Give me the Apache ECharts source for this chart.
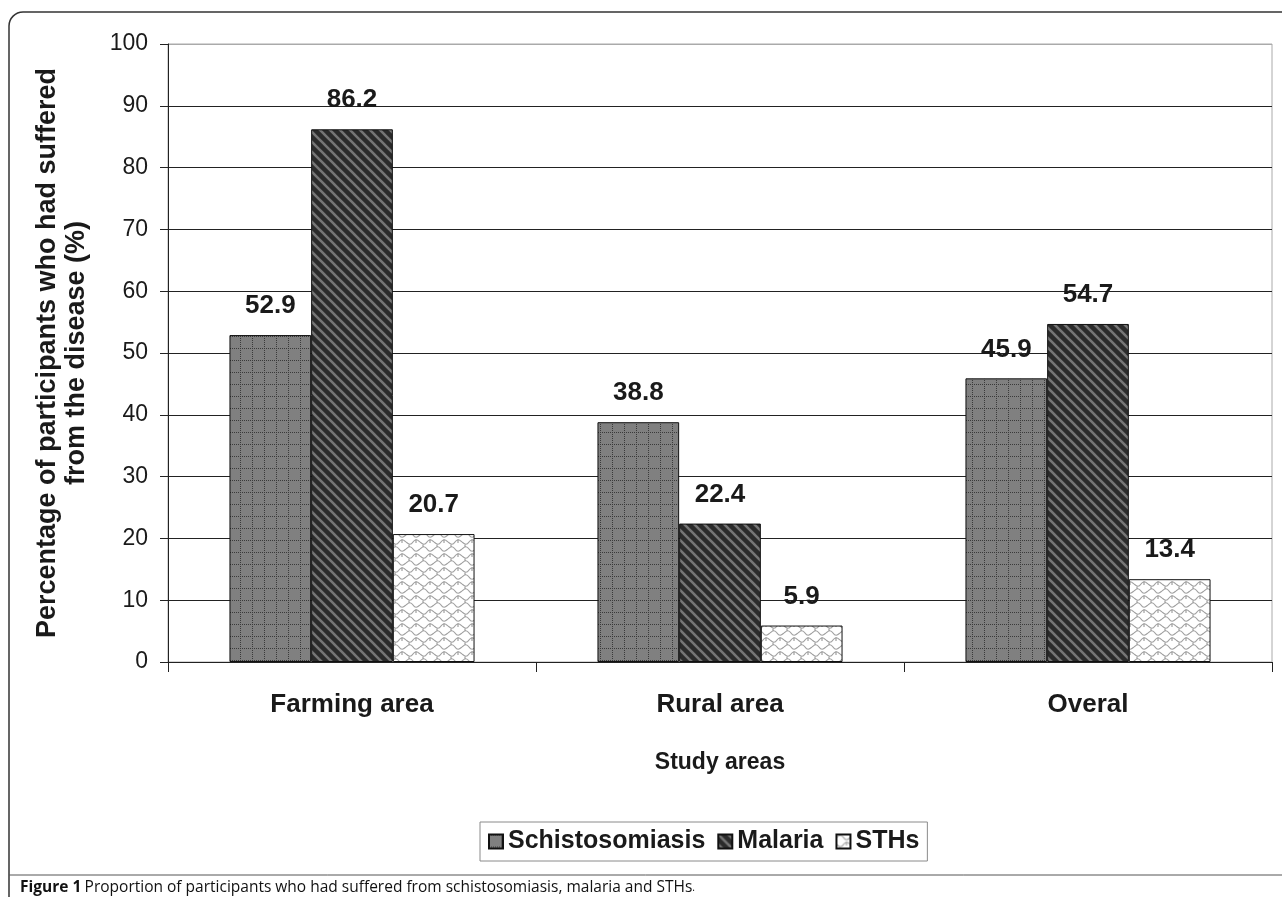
<!DOCTYPE html>
<html>
<head>
<meta charset="utf-8">
<script src="https://cdn.jsdelivr.net/npm/echarts@6/dist/echarts.min.js"></script>
<style>
  html, body { margin: 0; padding: 0; background: #fff; }
  #chart { width: 1282px; height: 897px; }
</style>
</head>
<body>
<div id="chart"></div>
<script>
// data
var categories = ['Farming area', 'Rural area', 'Overal'];
var schisto = [52.9, 38.8, 45.9];
var malaria = [86.2, 22.4, 54.7];
var sths = [20.7, 5.9, 13.4];
var yTicks = [0, 100, 10];

var FONT = '"Liberation Sans", Arial, sans-serif';

// pattern fills like the old excel hatches
function gridPattern() {
  var c = document.createElement('canvas');
  c.width = 12; c.height = 12;
  var g = c.getContext('2d');
  g.fillStyle = '#808080';
  g.fillRect(0, 0, 12, 12);
  g.fillStyle = '#3a3a3a';
  for (var i = 0; i < 12; i += 2) {
    g.fillRect(i, 0, 1, 1);
    g.fillRect(0, i, 1, 1);
  }
  return c;
}
function stripePattern() {
  var c = document.createElement('canvas');
  c.width = 10; c.height = 10;
  var g = c.getContext('2d');
  g.fillStyle = '#2b2b2b';
  g.fillRect(0, 0, 10, 10);
  g.strokeStyle = '#767676';
  g.lineWidth = 2.6;
  for (var k = -10; k <= 10; k += 10) {
    g.beginPath();
    g.moveTo(k - 2, -2);
    g.lineTo(k + 12, 12);
    g.stroke();
  }
  return c;
}
function scalePattern() {
  var c = document.createElement('canvas');
  c.width = 14; c.height = 14;
  var g = c.getContext('2d');
  g.fillStyle = '#fff';
  g.fillRect(0, 0, 14, 14);
  g.strokeStyle = '#a0a0a0';
  g.lineWidth = 1.2;
  g.beginPath();
  // wavy rows, second row shifted by half a tile
  g.moveTo(0, 3);
  g.bezierCurveTo(3, 0, 5, 0, 7, 3);
  g.bezierCurveTo(9, 6, 11, 6, 14, 3);
  g.moveTo(0, 10);
  g.bezierCurveTo(3, 13, 5, 13, 7, 10);
  g.bezierCurveTo(9, 7, 11, 7, 14, 10);
  g.moveTo(3, 1.5);
  g.lineTo(3, -1);
  g.moveTo(10, 7);
  g.lineTo(10, 11);
  g.moveTo(3, 12);
  g.lineTo(3, 15);
  g.stroke();
  return c;
}

var splitColors = [];
for (var i = 0; i < 11; i++) splitColors.push(i === 10 ? '#aaaaaa' : '#222222');

var chart = echarts.init(document.getElementById('chart'), null, { renderer: 'canvas' });

var labelStyle = {
  show: true,
  position: 'top',
  distance: 16,
  fontFamily: FONT,
  fontWeight: 'bold',
  fontSize: 26,
  color: '#1a1a1a'
};

var option = {
  backgroundColor: '#ffffff',
  animation: false,
  grid: {
    left: 168, right: 10, top: 44, bottom: 235,
    show: true, borderColor: '#aaaaaa', borderWidth: 1
  },
  legend: {
    left: 480, top: 822,
    icon: 'rect',
    itemWidth: 14, itemHeight: 14, itemGap: 12,
    padding: [7, 8, 7, 8],
    borderColor: '#8a8a8a', borderWidth: 1,
    textStyle: { fontFamily: FONT, fontWeight: 'bold', fontSize: 25, color: '#1a1a1a' },
    data: ['Schistosomiasis', 'Malaria', 'STHs']
  },
  xAxis: {
    type: 'category',
    data: categories,
    name: 'Study areas',
    nameLocation: 'middle',
    nameGap: 89,
    nameTextStyle: { fontFamily: FONT, fontWeight: 'bold', fontSize: 23, color: '#1a1a1a' },
    axisLine: { lineStyle: { color: '#222', width: 1 } },
    axisTick: { show: true, length: 10, lineStyle: { color: '#222' } },
    axisLabel: { margin: 30, fontFamily: FONT, fontWeight: 'bold', fontSize: 26, color: '#1a1a1a' }
  },
  yAxis: {
    type: 'value',
    min: yTicks[0], max: yTicks[1], interval: yTicks[2],
    name: 'Percentage of participants who had suffered\nfrom the disease (%)',
    nameLocation: 'middle',
    nameGap: 77,
    nameRotate: 90,
    nameTextStyle: { fontFamily: FONT, fontWeight: 'bold', fontSize: 27, color: '#1a1a1a', lineHeight: 29 },
    axisLine: { show: true, lineStyle: { color: '#222', width: 1 } },
    axisTick: { show: true, length: 8, lineStyle: { color: '#222' } },
    axisLabel: { margin: 20, fontFamily: FONT, fontSize: 23, color: '#1a1a1a' },
    splitLine: { show: true, lineStyle: { color: splitColors, width: 1 } }
  },
  series: [
    {
      name: 'Schistosomiasis', type: 'bar', data: schisto,
      barWidth: '22.2%', barGap: '0%',
      itemStyle: { color: { image: gridPattern(), repeat: 'repeat' }, borderColor: '#111', borderWidth: 1 },
      label: labelStyle
    },
    {
      name: 'Malaria', type: 'bar', data: malaria,
      barWidth: '22.2%', barGap: '0%',
      itemStyle: { color: { image: stripePattern(), repeat: 'repeat' }, borderColor: '#111', borderWidth: 1 },
      label: labelStyle
    },
    {
      name: 'STHs', type: 'bar', data: sths,
      barWidth: '22.2%', barGap: '0%',
      itemStyle: { color: { image: scalePattern(), repeat: 'repeat' }, borderColor: '#111', borderWidth: 1 },
      label: labelStyle
    }
  ],
  graphic: [
    {
      type: 'rect',
      shape: { x: 9, y: 12, width: 1300, height: 920, r: 14 },
      style: { fill: 'none', stroke: '#333', lineWidth: 1.5 },
      silent: true
    },
    {
      type: 'line',
      shape: { x1: 9, y1: 875, x2: 1282, y2: 875 },
      style: { stroke: '#555', lineWidth: 1 },
      silent: true
    },
    {
      type: 'text',
      left: 20, top: 880,
      style: {
        text: '{b|Figure 1} {n|Proportion of participants who had suffered from schistosomiasis, malaria and STHs}{s|.}',
        rich: {
          b: { fontFamily: '"Open Sans", sans-serif', fontWeight: 'bold', fontSize: 15.5, fill: '#111' },
          n: { fontFamily: '"Open Sans", sans-serif', fontSize: 15.5, fill: '#111' },
          s: { fontFamily: '"Open Sans", sans-serif', fontSize: 10, fill: '#111' }
        }
      }
    }
  ]
};

chart.setOption(option);
</script>
</body>
</html>
